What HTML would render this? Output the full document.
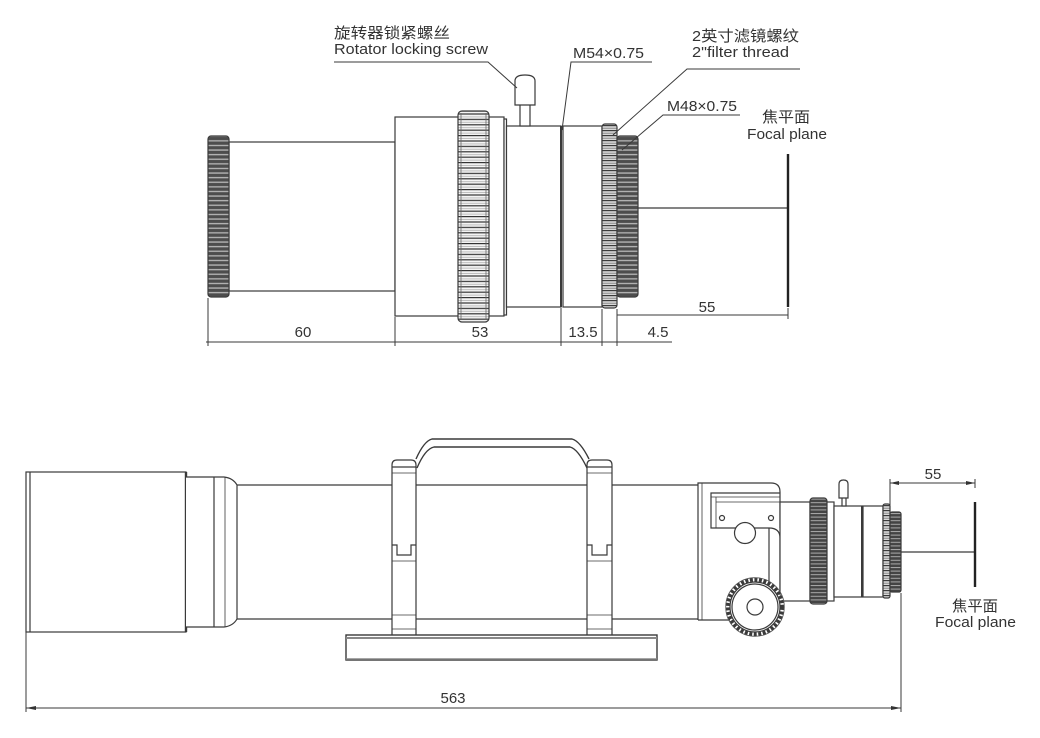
<!DOCTYPE html>
<html><head><meta charset="utf-8">
<style>
html,body{margin:0;padding:0;background:#fff;}
svg{display:block;}
text{font-family:"Liberation Sans","Noto Sans CJK SC",sans-serif;fill:#333;}
</style></head><body>
<svg width="1040" height="738" viewBox="0 0 1040 738" xmlns="http://www.w3.org/2000/svg">
<defs>
<pattern id="kd" patternUnits="userSpaceOnUse" width="40" height="4.6">
 <rect width="40" height="4.6" fill="#4d4d4d"/>
 <rect y="2.2" width="40" height="1.3" fill="#b8b8b8"/>
</pattern>
<pattern id="kl" patternUnits="userSpaceOnUse" width="40" height="5.4">
 <rect width="40" height="5.4" fill="#f4f4f4"/>
 <rect width="40" height="1.2" fill="#333"/>
 <rect y="3.2" width="40" height="0.6" fill="#999"/>
</pattern>
<pattern id="km" patternUnits="userSpaceOnUse" width="40" height="5">
 <rect width="40" height="5" fill="#d9d9d9"/>
 <rect width="40" height="1.2" fill="#3a3a3a"/>
 <rect y="2.8" width="40" height="0.8" fill="#777"/>
</pattern>
<pattern id="kd2" patternUnits="userSpaceOnUse" width="40" height="3.6">
 <rect width="40" height="3.6" fill="#444"/>
 <rect y="1.8" width="40" height="1" fill="#aaa"/>
</pattern>
</defs>
<rect width="1040" height="738" fill="#fff"/>

<g fill="none" stroke="#3a3a3a" stroke-width="1.2">
<!-- ===== TOP DRAWING ===== -->
<rect x="229" y="142" width="166" height="149" fill="#fff"/>
<rect x="395" y="117" width="109" height="199" fill="#fff"/>
<rect x="504" y="119" width="2.5" height="196" fill="#fff"/>
<rect x="506.5" y="126" width="54.5" height="181" fill="#fff"/>
<line x1="561" y1="126" x2="561" y2="307" stroke-width="2"/>
<rect x="563" y="126" width="39" height="181" fill="#fff"/>
<rect x="520" y="104" width="10" height="22" fill="#fff"/>
<path d="M515,105 V81 Q515,75 525,75 Q535,75 535,81 V105 Z" fill="#fff"/>
<rect x="208" y="136" width="21" height="161" rx="3" fill="url(#kd)"/>
<rect x="458" y="111" width="31" height="211" rx="4" fill="url(#kl)"/>
<line x1="461" y1="113" x2="461" y2="320" stroke="#666" stroke-width="0.8"/>
<line x1="486" y1="113" x2="486" y2="320" stroke="#666" stroke-width="0.8"/>
<rect x="602" y="124" width="15" height="184" rx="3" fill="url(#km)"/>
<rect x="617" y="136" width="21" height="161" rx="3" fill="url(#kd)"/>
<line x1="638" y1="208" x2="788" y2="208"/>
<line x1="788" y1="154" x2="788" y2="307" stroke-width="2.4" stroke="#222"/>
<polyline points="334,62 488,62 517,88" stroke-width="1"/>
<polyline points="652,62 571,62 562,130" stroke-width="1"/>
<polyline points="800,69 687,69 613,135" stroke-width="1"/>
<polyline points="740,115 663,115 622,150" stroke-width="1"/>
<line x1="206" y1="342" x2="672" y2="342" stroke-width="1"/>
<line x1="208" y1="298" x2="208" y2="346" stroke-width="1"/>
<line x1="395" y1="317" x2="395" y2="346" stroke-width="1"/>
<line x1="561" y1="308" x2="561" y2="346" stroke-width="1"/>
<line x1="602" y1="309" x2="602" y2="346" stroke-width="1"/>
<line x1="617" y1="309" x2="617" y2="346" stroke-width="1"/>
<line x1="617" y1="315" x2="788" y2="315" stroke-width="1"/>
<line x1="788" y1="308" x2="788" y2="319" stroke-width="1"/>

<!-- ===== BOTTOM DRAWING ===== -->
<line x1="237" y1="485" x2="698" y2="485"/>
<line x1="237" y1="619" x2="698" y2="619"/>
<rect x="26" y="472" width="160" height="160" fill="#fff"/>
<line x1="30" y1="472" x2="30" y2="632"/>
<line x1="186" y1="472" x2="186" y2="632" stroke-width="2.4"/>
<path d="M186,477 H224 Q233,478 237,485 V619 Q233,626 224,627 H186" fill="#fff"/>
<line x1="214" y1="477" x2="214" y2="627"/>
<line x1="225" y1="477" x2="225" y2="627" stroke-width="0.8"/>
<path d="M416,459 Q424,441 432,439 H572 Q580,441 589,459" stroke-width="1.4"/>
<path d="M417,468 Q425,449 434,447 H570 Q578,449 587,468" stroke-width="1.4"/>
<path d="M392,635 V465 Q392,460 397,460 H411 Q416,460 416,465 V635" fill="#fff"/>
<line x1="392" y1="467" x2="416" y2="467"/>
<line x1="392" y1="473" x2="416" y2="473" stroke-width="0.8"/>
<path d="M392,545 H397 V555 H411 V545 H416" />
<line x1="392" y1="561" x2="416" y2="561" stroke-width="0.8"/>
<line x1="392" y1="615" x2="416" y2="615" stroke-width="0.8"/>
<line x1="392" y1="629" x2="416" y2="629" stroke-width="0.8"/>
<path d="M587,635 V465 Q587,460 592,460 H607 Q612,460 612,465 V635" fill="#fff"/>
<line x1="587" y1="467" x2="612" y2="467"/>
<line x1="587" y1="473" x2="612" y2="473" stroke-width="0.8"/>
<path d="M587,545 H592 V555 H607 V545 H612" />
<line x1="587" y1="561" x2="612" y2="561" stroke-width="0.8"/>
<line x1="587" y1="615" x2="612" y2="615" stroke-width="0.8"/>
<line x1="587" y1="629" x2="612" y2="629" stroke-width="0.8"/>
<rect x="346" y="635" width="311" height="25" fill="#fff" stroke-width="1.4"/>
<line x1="346" y1="638" x2="657" y2="638" stroke="#888" stroke-width="2"/>
<line x1="346" y1="659" x2="657" y2="659" stroke="#888" stroke-width="1.5"/>

<path d="M698,620 V483 H771 Q780,483 780,492 V528" fill="#fff"/>
<line x1="702" y1="483" x2="702" y2="620" stroke-width="0.8"/>
<line x1="698" y1="620" x2="730" y2="620"/>
<path d="M780,493 H711 V528 H769 Q780,528 780,538 V600"/>
<line x1="711" y1="497" x2="780" y2="497" stroke-width="0.8"/>
<line x1="716" y1="502" x2="780" y2="502" stroke-width="0.8"/>
<line x1="716" y1="497" x2="716" y2="528" stroke-width="0.8"/>
<line x1="769" y1="528" x2="769" y2="588"/>
<circle cx="722" cy="518" r="2.5" stroke-width="1.2"/>
<circle cx="771" cy="518" r="2.5" stroke-width="1.2"/>
<circle cx="745" cy="533" r="10.5" fill="#fff"/>
<rect x="780" y="502" width="30" height="99" fill="#fff"/>
<rect x="810" y="498" width="17" height="106" rx="3" fill="url(#kd2)"/>
<rect x="827" y="502" width="7" height="99" fill="#fff"/>
<rect x="834" y="506" width="28" height="91" fill="#fff"/>
<line x1="862" y1="506" x2="862" y2="597" stroke-width="2"/>
<rect x="863" y="506" width="20" height="91" fill="#fff"/>
<rect x="883" y="504" width="7" height="94" rx="2" fill="url(#km)"/>
<rect x="890" y="512" width="11" height="80" rx="2" fill="url(#kd2)"/>
<rect x="842" y="497" width="4" height="9" fill="#fff"/>
<path d="M839,498 V484 Q839,480 843.5,480 Q848,480 848,484 V498 Z" fill="#fff"/>
<!-- big focus knob -->
<circle cx="755" cy="607" r="27.5" fill="#fff" stroke="#3a3a3a" stroke-width="4" stroke-dasharray="3 1.6"/>
<circle cx="755" cy="607" r="29.3" stroke="#555" stroke-width="0.8"/>
<circle cx="755" cy="607" r="25" fill="#fff"/>
<circle cx="755" cy="607" r="23"/>
<circle cx="755" cy="607" r="8"/>
<line x1="901" y1="552" x2="975" y2="552"/>
<line x1="975" y1="502" x2="975" y2="587" stroke-width="2.4" stroke="#222"/>
<line x1="890" y1="483" x2="975" y2="483" stroke-width="1"/>
<line x1="890" y1="479" x2="890" y2="505" stroke-width="1"/>
<line x1="975" y1="479" x2="975" y2="488" stroke-width="1"/>
<line x1="26" y1="708" x2="901" y2="708" stroke-width="1"/>
<line x1="26" y1="632" x2="26" y2="712" stroke-width="1"/>
<line x1="901" y1="593" x2="901" y2="712" stroke-width="1"/>
</g>
<g fill="#333">
<path d="M26,708 L36,706 L36,710 Z"/>
<path d="M901,708 L891,706 L891,710 Z"/>
<path d="M890,483 L899,481 L899,485 Z"/>
<path d="M975,483 L966,481 L966,485 Z"/>
</g>

<g font-size="15">
<text x="334" y="38" textLength="116" lengthAdjust="spacingAndGlyphs">旋转器锁紧螺丝</text>
<text x="334" y="54" textLength="154" lengthAdjust="spacingAndGlyphs">Rotator locking screw</text>
<text x="573" y="58" textLength="71" lengthAdjust="spacingAndGlyphs">M54×0.75</text>
<text x="692" y="41" textLength="107" lengthAdjust="spacingAndGlyphs">2英寸滤镜螺纹</text>
<text x="692" y="57" textLength="97" lengthAdjust="spacingAndGlyphs">2"filter thread</text>
<text x="667" y="111" textLength="70" lengthAdjust="spacingAndGlyphs">M48×0.75</text>
<text x="762" y="122" textLength="48" lengthAdjust="spacingAndGlyphs">焦平面</text>
<text x="747" y="139" textLength="80" lengthAdjust="spacingAndGlyphs">Focal plane</text>
<text x="303" y="337" text-anchor="middle">60</text>
<text x="480" y="337" text-anchor="middle">53</text>
<text x="583" y="337" text-anchor="middle">13.5</text>
<text x="658" y="337" text-anchor="middle">4.5</text>
<text x="707" y="312" text-anchor="middle">55</text>
<text x="933" y="479" text-anchor="middle">55</text>
<text x="453" y="703" text-anchor="middle">563</text>
<text x="952" y="611" textLength="46" lengthAdjust="spacingAndGlyphs">焦平面</text>
<text x="935" y="627" textLength="81" lengthAdjust="spacingAndGlyphs">Focal plane</text>
</g>
</svg>
</body></html>
